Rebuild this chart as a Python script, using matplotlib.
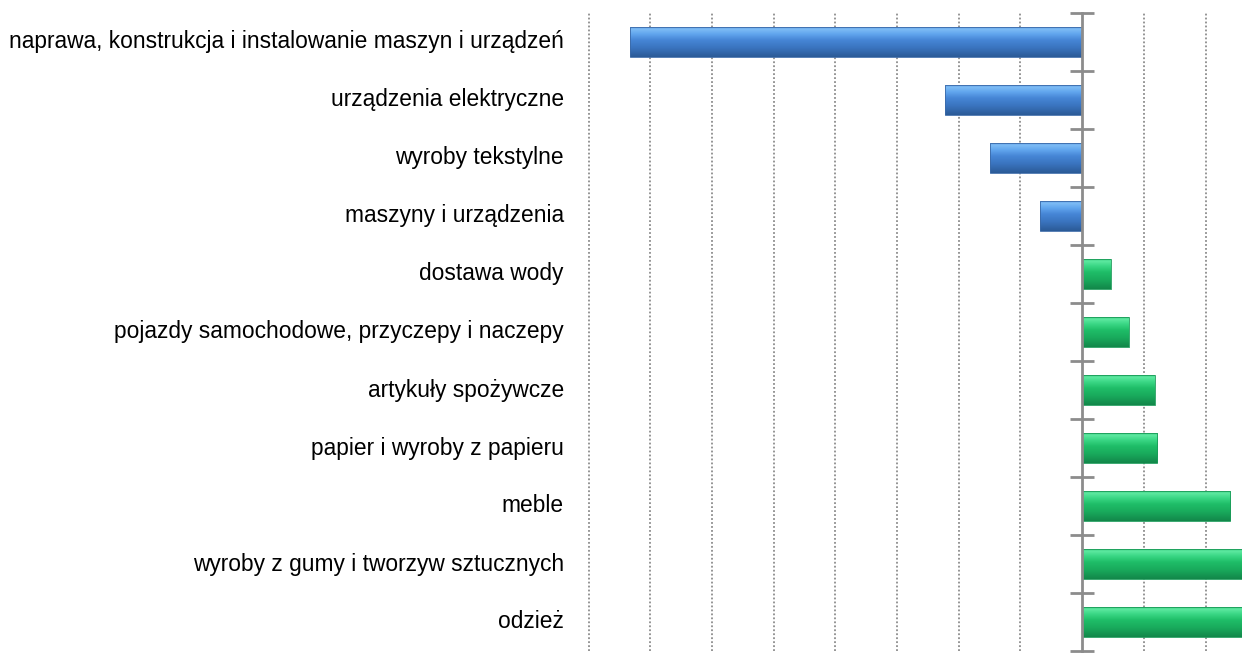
import matplotlib
matplotlib.use("Agg")
import matplotlib.pyplot as plt
import numpy as np
from matplotlib.colors import LinearSegmentedColormap

categories = [
    "naprawa, konstrukcja i instalowanie maszyn i urządzeń",
    "urządzenia elektryczne",
    "wyroby tekstylne",
    "maszyny i urządzenia",
    "dostawa wody",
    "pojazdy samochodowe, przyczepy i naczepy",
    "artykuły spożywcze",
    "papier i wyroby z papieru",
    "meble",
    "wyroby z gumy i tworzyw sztucznych",
    "odzież",
]
values = [-7.33, -2.22, -1.49, -0.68, 0.47, 0.76, 1.18, 1.22, 2.40, 2.95, 3.25]

# colormap goes from top (0) to bottom (1) of each bar
blue_cmap = LinearSegmentedColormap.from_list(
    "b", [(0, "#5591dc"), (0.1, "#7dbcf5"), (0.25, "#62a6ee"), (0.45, "#4686d6"), (0.7, "#3a74bf"), (1, "#2b5a96")])
green_cmap = LinearSegmentedColormap.from_list(
    "g", [(0, "#2bc274"), (0.1, "#5de8a0"), (0.25, "#3bd886"), (0.45, "#1fbe68"), (0.7, "#19aa5c"), (1, "#12874a")])

plt.rcParams['font.family'] = ['Liberation Sans', 'DejaVu Sans']
fig = plt.figure(figsize=(12.42, 6.55), dpi=100)
W, H = 1242, 655
x_left_px, zero_px, step_px = 588.5, 1082, 61.7
xmin, xmax = -8, 3
ax_left = x_left_px / W
ax_width = (xmax - xmin) * step_px / W
top_px, bot_px = 13, 651
ax = fig.add_axes([ax_left, (H - bot_px) / H, ax_width, (bot_px - top_px) / H])

n = len(categories)
y = np.arange(n)
bars = ax.barh(y, values, height=0.53, color="none", edgecolor="none", zorder=3)
grad = np.linspace(0, 1, 256).reshape(-1, 1)
for b, v in zip(bars, values):
    x0, y0 = b.get_x(), b.get_y()
    w, h = b.get_width(), b.get_height()
    cmap = blue_cmap if v < 0 else green_cmap
    # y axis is inverted: y0 is the top edge of the bar on screen
    im = ax.imshow(grad, cmap=cmap, aspect="auto", origin="upper",
                   extent=[x0, x0 + w, y0 + h, y0], zorder=3, interpolation="bilinear")
    im.set_clip_path(b)
    edge = "#3b6aa8" if v < 0 else "#1a9a58"
    ax.add_patch(plt.Rectangle((x0, y0), w, h, fill=False, edgecolor=edge, lw=0.6, zorder=4))

ax.set_xlim(xmin, xmax)
ax.set_ylim(n - 0.5, -0.5)

for gx in range(xmin, xmax + 1):
    if gx != 0:
        ax.axvline(gx, color="#8c8c8c", lw=1.3, ls=(0, (1, 1.2)), zorder=1, clip_on=False)

for s in ["top", "right", "bottom"]:
    ax.spines[s].set_visible(False)
ax.spines["left"].set_position(("data", 0))
ax.spines["left"].set_color("#8c8c8c")
ax.spines["left"].set_linewidth(2)
ax.spines["left"].set_zorder(5)
ax.set_yticks(np.arange(n + 1) - 0.5)
ax.set_yticklabels([])
ax.tick_params(axis="y", direction="inout", length=17, width=2, color="#8c8c8c")
ax.set_xticks([])

for yi, cat in zip(y, categories):
    ax.text(-8.4, yi, cat, ha="right", va="center", fontsize=16.4, color="#000000")

fig.savefig("out.png", dpi=100)
